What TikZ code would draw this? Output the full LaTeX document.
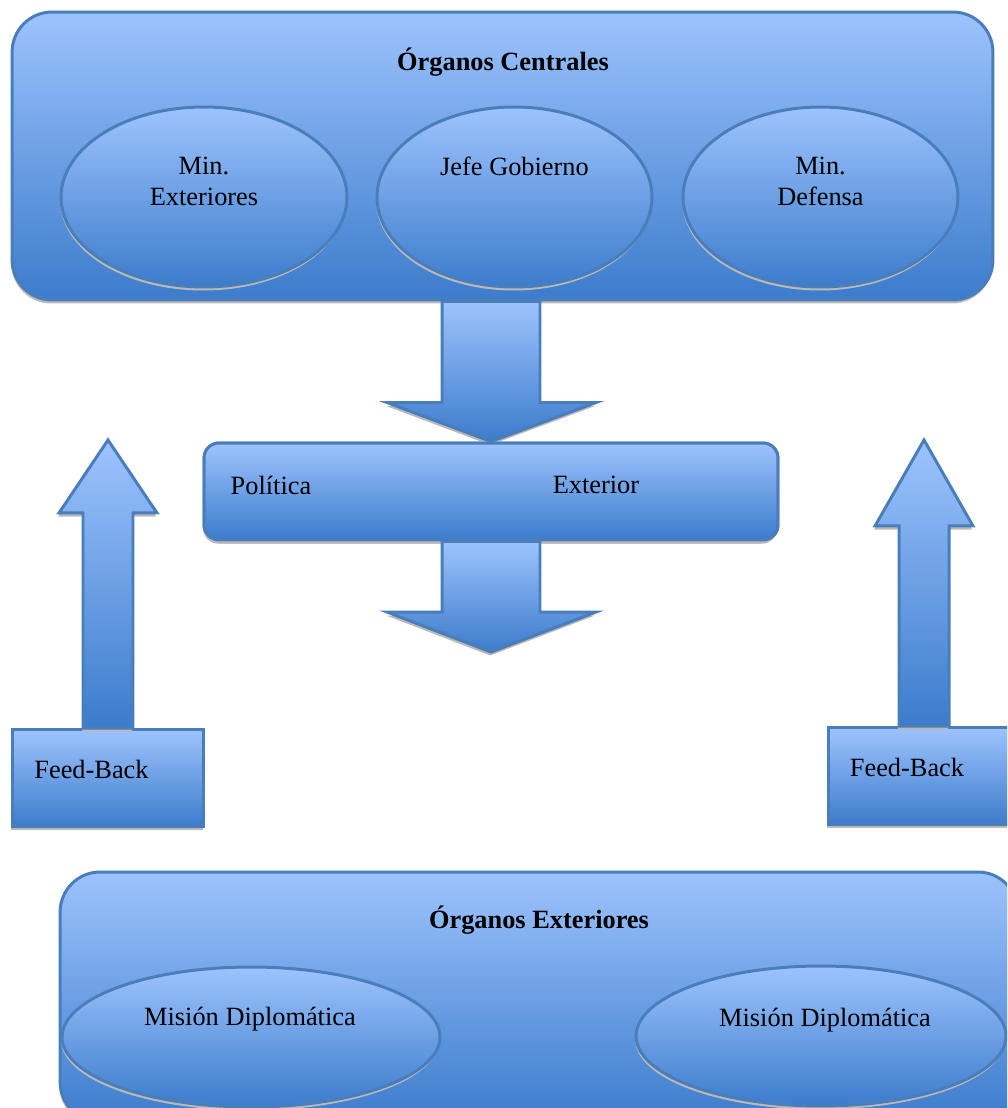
\documentclass[tikz,border=0pt]{standalone}
\usepackage{fontspec}
\setmainfont{Liberation Serif}
\usetikzlibrary{shapes.geometric,shadows,calc,positioning}
\definecolor{boxtop}{RGB}{157,195,253}
\definecolor{boxbottom}{RGB}{60,124,204}
\definecolor{boxline}{RGB}{74,126,187}
\tikzstyle{bluefill} = [draw=boxline, line width=1.7pt, top color=boxtop, bottom color=boxbottom,
  drop shadow={shadow xshift=-0.5pt, shadow yshift=-2pt, fill=gray!55, opacity=1}]
\tikzstyle{bigbox} = [bluefill, rectangle, rounded corners=0.8cm]
\tikzstyle{midbox} = [bluefill, rectangle, rounded corners=0.3cm]
\tikzstyle{fbbox} = [bluefill, rectangle, minimum width=3.84cm, minimum height=1.94cm]
\tikzstyle{oval} = [bluefill, ellipse, inner sep=0pt]
\tikzstyle{title} = [font=\fontsize{15}{17.6}\selectfont\bfseries]
\tikzset{
  blockdown/.style={bluefill, to path={let \p1=(\tikztostart), \p2=(\tikztotarget) in
    (\x2-0.98cm,\y1) -- (\x2-0.98cm,\y2+#1) -- (\x2-2.08cm,\y2+#1) -- (\x2,\y2)
    -- (\x2+2.1cm,\y2+#1) -- (\x2+0.98cm,\y2+#1) -- (\x2+0.98cm,\y1) -- cycle}},
  blockup/.style={bluefill, to path={let \p1=(\tikztostart), \p2=(\tikztotarget) in
    (\x2-0.5cm,\y1) -- (\x2-0.5cm,\y2-#1) -- (\x2-0.98cm,\y2-#1) -- (\x2,\y2)
    -- (\x2+0.98cm,\y2-#1) -- (\x2+0.5cm,\y2-#1) -- (\x2+0.5cm,\y1) -- cycle}}
}

\begin{document}
\begin{tikzpicture}[x=0.02cm, y=-0.02cm, font=\fontsize{15}{17.6}\selectfont]
\useasboundingbox (0,0) rectangle (1007,1108);
\clip (0,0) rectangle (1007,1108);

% Organos centrales
\node[bigbox, minimum width=19.62cm, minimum height=5.76cm] (central) at (502.5,156) {};
\node[title] (centraltitle) at (503,62) {Órganos Centrales};
\node[oval, minimum width=5.72cm, minimum height=3.6cm] (minext) at (204,197) {};
\node[oval, minimum width=5.5cm, minimum height=3.6cm] (jefe) at (514.5,197) {};
\node[oval, minimum width=5.5cm, minimum height=3.6cm] (mindef) at (820.5,197) {};
\node[align=center] (minexttext) at (204,181) {Min.\\Exteriores};
\node (jefetext) at (514.5,166) {Jefe Gobierno};
\node[align=center] (mindeftext) at (820.5,181) {Min.\\Defensa};

% Politica exterior
\node[midbox, minimum width=11.48cm, minimum height=1.94cm] (politica) at (491,491.5) {};
\draw[blockdown=0.78cm] (central.south) to (politica.north);
\node[midbox, minimum width=11.48cm, minimum height=1.94cm] at (politica) {};
\node (poltext) at (271,485) {Política};
\node (exttext) at (596,485) {Exterior};
\coordinate (tipdown) at (491,652);
\draw[blockdown=0.8cm] (politica.south) to (tipdown);

% Feed-back
\coordinate (tipleft) at (108,440);
\coordinate (tipright) at (924,440);
\node[fbbox] (fbleft) at (108,778) {};
\node[fbbox] (fbright) at (924,776) {};
\draw[blockup=1.46cm] (fbleft.north) to (tipleft);
\draw[blockup=1.72cm] (fbright.north) to (tipright);
\node (fbleftext) at (91.5,769) {Feed-Back};
\node (fbrighttext) at (907,767) {Feed-Back};

% Organos exteriores
\node[bigbox, minimum width=19.16cm, minimum height=5.0cm] (exterior) at (539,997) {};
\node[title] (exteriortitle) at (539,920) {Órganos Exteriores};
\node[oval, minimum width=7.56cm, minimum height=2.8cm] (misionl) at (251,1037) {};
\node[oval, minimum width=7.4cm, minimum height=2.8cm] (misionr) at (821,1036) {};
\node (misionltext) at (250,1019) {Misión Diplomática};
\node (misionrtext) at (825,1020) {Misión Diplomática};
\end{tikzpicture}
\end{document}
